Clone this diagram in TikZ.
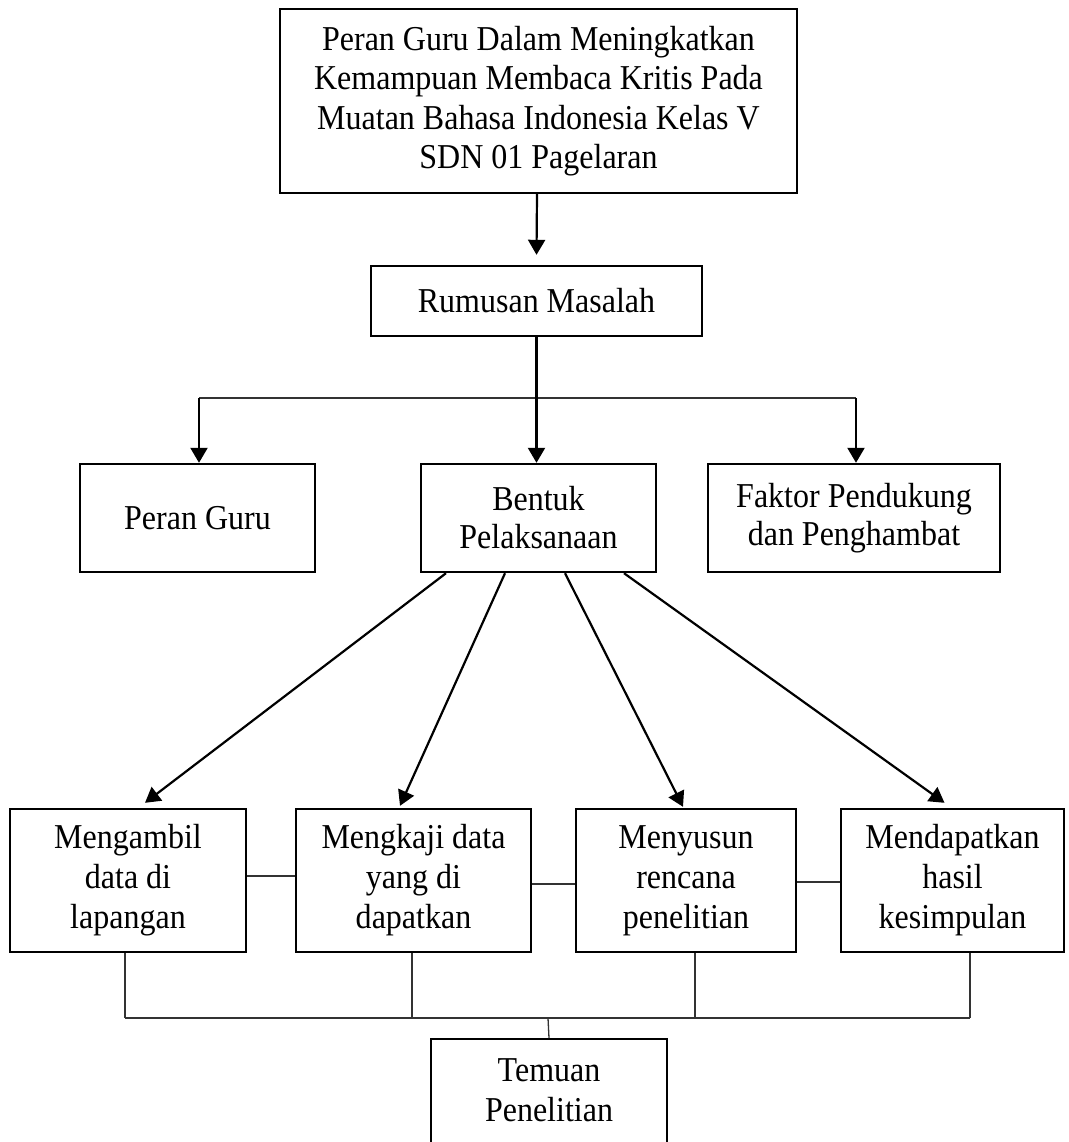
\documentclass[tikz,border=0pt]{standalone}
\usepackage{fontspec}
\setmainfont{Liberation Serif}[FakeStretch=0.917]
\usetikzlibrary{arrows.meta}
\tikzset{
  box/.style={draw=black, line width=2.4pt, fill=white, inner sep=0pt, align=center,
    font={\fontsize{34.9pt}{40pt}\selectfont}},
  txt/.style={inner sep=0pt, align=center, font={\fontsize{34.9pt}{40pt}\selectfont}},
  arr/.style={draw=black, line width=2.2pt, -{Triangle[length=15pt,width=17pt]}},
  thinl/.style={draw=black!80, line width=1.3pt},
}
\begin{document}
\begin{tikzpicture}[x=1pt,y=-1pt]
\useasboundingbox (0,0) rectangle (1068,1142);
\clip (0,0) rectangle (1068,1142);
\fill[white] (0,0) rectangle (1068,1142);
% boxes
\node[box, minimum width=517pt, minimum height=184pt, font={\fontsize{34.9pt}{39.5pt}\selectfont}] (top) at (538.5,101)
  {Peran Guru Dalam Meningkatkan\\Kemampuan Membaca Kritis Pada\\Muatan Bahasa Indonesia Kelas V\\SDN 01 Pagelaran};
\node[box, minimum width=331pt, minimum height=70pt] (rum) at (536.5,301) {Rumusan Masalah};
\node[box, minimum width=235pt, minimum height=108pt] (peran) at (197.5,518) {Peran Guru};
\node[box, minimum width=235pt, minimum height=108pt, font={\fontsize{34.9pt}{38pt}\selectfont}] (bentuk) at (538.5,518) {Bentuk\\Pelaksanaan};
\node[box, minimum width=292pt, minimum height=108pt, font={\fontsize{34.9pt}{38pt}\selectfont}] (faktor) at (854,518) {Faktor Pendukung\\dan Penghambat};
\node[box, minimum width=236pt, minimum height=143pt] (ambil) at (128,880.5) {Mengambil\\data di\\lapangan};
\node[box, minimum width=235pt, minimum height=143pt] (kaji) at (413.5,880.5) {Mengkaji data\\yang di\\dapatkan};
\node[box, minimum width=220pt, minimum height=143pt] (susun) at (686,880.5) {Menyusun\\rencana\\penelitian};
\node[box, minimum width=223pt, minimum height=143pt] (dapat) at (952.5,880.5) {Mendapatkan\\hasil\\kesimpulan};
\node[box, minimum width=236pt, minimum height=130pt, anchor=north] (tem) at (549,1038) {};
\node[txt] (temtxt) at (549,1090) {Temuan\\Penelitian};
% top arrow
\draw[arr] (top.south -| 537,0) -- ([yshift=10pt]rum.north);
% rumusan to three
\coordinate (hl) at (537,398);
\draw[thinl] (hl -| 199,0) -- (hl -| 856,0);
\draw[arr] (rum.south) -- (rum.south |- bentuk.north);
\draw[arr] (hl -| 199,0) -- (199,0 |- peran.north);
\draw[arr] (hl -| 856,0) -- (856,0 |- faktor.north);
% diagonals
\draw[arr] ([xshift=-92.5pt]bentuk.south) -- ([xshift=17pt,yshift=5pt]ambil.north);
\draw[arr] ([xshift=-33.5pt]bentuk.south) -- ([xshift=-13.5pt,yshift=2pt]kaji.north);
\draw[arr] ([xshift=26.5pt]bentuk.south) -- ([xshift=-3pt,yshift=1pt]susun.north);
\draw[arr] ([xshift=85.5pt]bentuk.south) -- ([xshift=-8pt,yshift=5pt]dapat.north);
% side connectors
\draw[thinl] ([yshift=4.5pt]ambil.east) -- ([yshift=4.5pt]kaji.west);
\draw[thinl] ([yshift=-3.5pt]kaji.east) -- ([yshift=-3.5pt]susun.west);
\draw[thinl] ([yshift=-1.5pt]susun.east) -- ([yshift=-1.5pt]dapat.west);
% bottom collector
\coordinate (bl) at (548,1018);
\draw[thinl] ([xshift=-3pt]ambil.south) -- ([xshift=-3pt]ambil.south |- bl);
\draw[thinl] ([xshift=-1.5pt]kaji.south) -- ([xshift=-1.5pt]kaji.south |- bl);
\draw[thinl] ([xshift=9pt]susun.south) -- ([xshift=9pt]susun.south |- bl);
\draw[thinl] ([xshift=17.5pt]dapat.south) -- ([xshift=17.5pt]dapat.south |- bl);
\draw[thinl] ([xshift=-3pt]ambil.south |- bl) -- ([xshift=17.5pt]dapat.south |- bl);
\draw[thinl] (bl) -- (tem.north);
\end{tikzpicture}
\end{document}
